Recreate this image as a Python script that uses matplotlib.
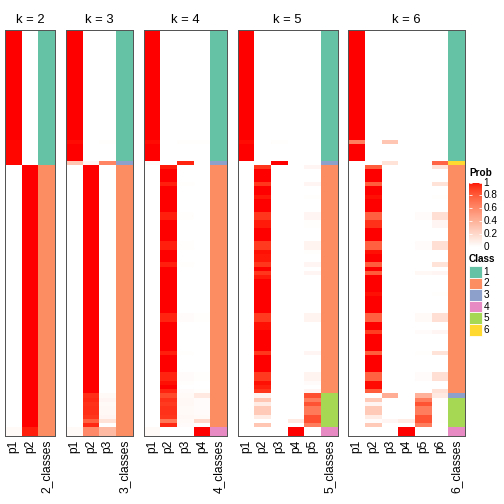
import numpy as np
import matplotlib
matplotlib.use("Agg")
import matplotlib.pyplot as plt
from matplotlib.colors import ListedColormap
from matplotlib.patches import Rectangle

plt.rcParams['font.family'] = ['Liberation Sans', 'DejaVu Sans']

# ---------------- data (run-length rows: (count, [p1..pk], class)) ----------------
K_VALUES = [2, 3, 4, 5, 6]

ROWS_K2 = [
    (26, [1.00, 0.00], 1),
    (6,  [0.995, 0.00], 1),
    (62, [0.00, 1.00], 2),
    (2,  [0.03, 0.97], 2),
]

ROWS_K3 = [
    (26, [1.00, 0.00, 0.00], 1),
    (1,  [0.99, 0.00, 0.01], 1),
    (4,  [1.00, 0.00, 0.00], 1),
    (1,  [0.30, 0.05, 0.62], 3),
    (54, [0.00, 1.00, 0.00], 2),
    (1,  [0.00, 0.94, 0.03], 2),
    (1,  [0.00, 0.95, 0.05], 2),
    (1,  [0.00, 0.93, 0.03], 2),
    (2,  [0.00, 0.94, 0.04], 2),
    (1,  [0.00, 0.92, 0.05], 2),
    (1,  [0.00, 0.78, 0.15], 2),
    (1,  [0.00, 0.95, 0.00], 2),
    (2,  [0.03, 0.60, 0.36], 2),
]

ROWS_K4 = [
    (26, [1.00, 0.00, 0.00, 0.00], 1),
    (1,  [0.99, 0.00, 0.01, 0.01], 1),
    (4,  [1.00, 0.00, 0.00, 0.00], 1),
    (1,  [0.02, 0.00, 0.96, 0.00], 3),
    (1,  [0.00, 0.975, 0.00, 0.00], 2),
    (3,  [0.00, 1.00, 0.00, 0.00], 2),
    (1,  [0.00, 0.965, 0.01, 0.00], 2),
    (6,  [0.00, 1.00, 0.00, 0.00], 2),
    (2,  [0.00, 0.965, 0.01, 0.00], 2),
    (5,  [0.00, 1.00, 0.00, 0.00], 2),
    (2,  [0.00, 0.965, 0.01, 0.00], 2),
    (3,  [0.00, 1.00, 0.00, 0.00], 2),
    (1,  [0.00, 0.965, 0.01, 0.00], 2),
    (11, [0.00, 1.00, 0.00, 0.00], 2),
    (2,  [0.00, 0.96, 0.02, 0.01], 2),
    (7,  [0.00, 1.00, 0.00, 0.00], 2),
    (1,  [0.00, 0.97, 0.01, 0.00], 2),
    (4,  [0.00, 1.00, 0.00, 0.00], 2),
    (2,  [0.00, 0.96, 0.02, 0.01], 2),
    (1,  [0.00, 0.985, 0.01, 0.00], 2),
    (1,  [0.00, 1.00, 0.00, 0.00], 2),
    (1,  [0.00, 0.96, 0.02, 0.01], 2),
    (1,  [0.00, 0.86, 0.03, 0.12], 2),
    (1,  [0.00, 0.93, 0.04, 0.02], 2),
    (1,  [0.00, 0.91, 0.04, 0.02], 2),
    (2,  [0.00, 0.93, 0.03, 0.02], 2),
    (1,  [0.00, 0.92, 0.04, 0.03], 2),
    (1,  [0.00, 0.68, 0.03, 0.20], 2),
    (1,  [0.00, 0.95, 0.02, 0.00], 2),
    (2,  [0.03, 0.00, 0.00, 1.00], 4),
]

ROWS_K5 = [
    (26, [1.00, 0.00, 0.00, 0.00, 0.00], 1),
    (1,  [0.99, 0.00, 0.01, 0.00, 0.00], 1),
    (4,  [1.00, 0.00, 0.00, 0.00, 0.00], 1),
    (1,  [0.00, 0.00, 1.00, 0.00, 0.00], 3),
    (1,  [0.00, 0.92, 0.00, 0.00, 0.05], 2),
    (3,  [0.00, 1.00, 0.00, 0.00, 0.00], 2),
    (1,  [0.00, 0.92, 0.00, 0.00, 0.05], 2),
    (2,  [0.00, 1.00, 0.00, 0.00, 0.00], 2),
    (1,  [0.00, 0.98, 0.00, 0.00, 0.01], 2),
    (3,  [0.00, 1.00, 0.00, 0.00, 0.00], 2),
    (2,  [0.00, 0.92, 0.00, 0.00, 0.05], 2),
    (2,  [0.00, 0.975, 0.00, 0.00, 0.01], 2),
    (3,  [0.00, 1.00, 0.00, 0.00, 0.00], 2),
    (2,  [0.00, 0.91, 0.00, 0.00, 0.06], 2),
    (1,  [0.00, 0.985, 0.00, 0.00, 0.01], 2),
    (2,  [0.00, 0.98, 0.00, 0.00, 0.00], 2),
    (1,  [0.00, 0.92, 0.00, 0.00, 0.05], 2),
    (1,  [0.00, 1.00, 0.00, 0.00, 0.00], 2),
    (1,  [0.00, 0.92, 0.00, 0.00, 0.05], 2),
    (1,  [0.00, 0.975, 0.00, 0.00, 0.00], 2),
    (8,  [0.00, 1.00, 0.00, 0.00, 0.00], 2),
    (2,  [0.00, 0.91, 0.00, 0.00, 0.06], 2),
    (2,  [0.00, 0.985, 0.00, 0.00, 0.00], 2),
    (5,  [0.00, 1.00, 0.00, 0.00, 0.00], 2),
    (1,  [0.00, 0.92, 0.00, 0.00, 0.05], 2),
    (4,  [0.00, 1.00, 0.00, 0.00, 0.00], 2),
    (2,  [0.00, 0.91, 0.00, 0.00, 0.06], 2),
    (1,  [0.00, 0.985, 0.00, 0.00, 0.02], 2),
    (1,  [0.00, 0.965, 0.00, 0.00, 0.00], 2),
    (1,  [0.00, 0.92, 0.00, 0.00, 0.05], 2),
    (1,  [0.00, 0.06, 0.00, 0.00, 0.84], 5),
    (1,  [0.00, 0.30, 0.00, 0.00, 0.66], 5),
    (1,  [0.00, 0.10, 0.00, 0.00, 0.83], 5),
    (2,  [0.00, 0.28, 0.00, 0.00, 0.67], 5),
    (1,  [0.00, 0.10, 0.00, 0.00, 0.84], 5),
    (1,  [0.00, 0.00, 0.00, 0.12, 0.84], 5),
    (1,  [0.00, 0.30, 0.00, 0.00, 0.66], 5),
    (2,  [0.00, 0.00, 0.00, 1.00, 0.00], 4),
]

ROWS_K6 = [
    (26, [1.00, 0.00, 0.00, 0.00, 0.00, 0.00], 1),
    (1,  [0.65, 0.00, 0.30, 0.00, 0.00, 0.00], 1),
    (4,  [1.00, 0.00, 0.00, 0.00, 0.00, 0.00], 1),
    (1,  [0.00, 0.00, 0.15, 0.00, 0.00, 0.76], 6),
    (1,  [0.00, 0.79, 0.00, 0.00, 0.00, 0.15], 2),
    (3,  [0.00, 1.00, 0.00, 0.00, 0.00, 0.00], 2),
    (1,  [0.00, 0.79, 0.00, 0.00, 0.00, 0.15], 2),
    (2,  [0.00, 1.00, 0.00, 0.00, 0.00, 0.00], 2),
    (1,  [0.00, 0.985, 0.00, 0.00, 0.00, 0.01], 2),
    (3,  [0.00, 1.00, 0.00, 0.00, 0.00, 0.00], 2),
    (2,  [0.00, 0.78, 0.00, 0.00, 0.02, 0.17], 2),
    (2,  [0.00, 0.93, 0.00, 0.00, 0.00, 0.05], 2),
    (3,  [0.00, 1.00, 0.00, 0.00, 0.00, 0.00], 2),
    (2,  [0.00, 0.78, 0.00, 0.00, 0.02, 0.17], 2),
    (1,  [0.00, 0.985, 0.00, 0.00, 0.00, 0.00], 2),
    (2,  [0.00, 1.00, 0.00, 0.00, 0.00, 0.00], 2),
    (1,  [0.00, 0.79, 0.00, 0.00, 0.00, 0.15], 2),
    (1,  [0.00, 1.00, 0.00, 0.00, 0.00, 0.00], 2),
    (1,  [0.00, 0.80, 0.00, 0.00, 0.04, 0.05], 2),
    (4,  [0.00, 1.00, 0.00, 0.00, 0.00, 0.00], 2),
    (1,  [0.00, 0.985, 0.00, 0.00, 0.00, 0.01], 2),
    (4,  [0.00, 1.00, 0.00, 0.00, 0.00, 0.00], 2),
    (2,  [0.00, 0.78, 0.00, 0.00, 0.03, 0.17], 2),
    (2,  [0.00, 1.00, 0.00, 0.00, 0.00, 0.00], 2),
    (1,  [0.00, 0.90, 0.00, 0.00, 0.02, 0.05], 2),
    (4,  [0.00, 1.00, 0.00, 0.00, 0.00, 0.00], 2),
    (1,  [0.00, 0.79, 0.00, 0.00, 0.01, 0.15], 2),
    (4,  [0.00, 1.00, 0.00, 0.00, 0.00, 0.00], 2),
    (2,  [0.00, 0.77, 0.00, 0.00, 0.02, 0.17], 2),
    (2,  [0.00, 0.99, 0.00, 0.00, 0.00, 0.00], 2),
    (1,  [0.00, 0.79, 0.00, 0.00, 0.00, 0.16], 2),
    (1,  [0.00, 0.00, 0.42, 0.00, 0.40, 0.12], 3),
    (1,  [0.00, 0.28, 0.00, 0.00, 0.66, 0.01], 5),
    (1,  [0.00, 0.05, 0.00, 0.00, 0.83, 0.01], 5),
    (2,  [0.00, 0.28, 0.00, 0.00, 0.66, 0.01], 5),
    (1,  [0.00, 0.10, 0.00, 0.00, 0.83, 0.01], 5),
    (1,  [0.00, 0.02, 0.05, 0.10, 0.83, 0.01], 5),
    (1,  [0.00, 0.28, 0.00, 0.00, 0.66, 0.00], 5),
    (2,  [0.00, 0.00, 0.00, 1.00, 0.00, 0.00], 4),
]

ALL_ROWS = {2: ROWS_K2, 3: ROWS_K3, 4: ROWS_K4, 5: ROWS_K5, 6: ROWS_K6}

CLASS_LABELS = ["1", "2", "3", "4", "5", "6"]
CLASS_COLORS = ["#66C2A5", "#FC8D62", "#8DA0CB", "#E78AC3", "#A6D854", "#FFD92F"]
PROB_TICKS = [0, 0.2, 0.4, 0.6, 0.8, 1]


def expand(rows):
    probs, cls = [], []
    for n, p, c in rows:
        for _ in range(n):
            probs.append(p)
            cls.append(c)
    return np.array(probs, dtype=float), np.array(cls)


# ---------------- white -> red colour ramp interpolated in LAB ----------------
def srgb_to_lab(rgb):
    rgb = np.asarray(rgb, float)
    lin = np.where(rgb <= 0.04045, rgb / 12.92, ((rgb + 0.055) / 1.055) ** 2.4)
    M = np.array([[0.4124, 0.3576, 0.1805], [0.2126, 0.7152, 0.0722], [0.0193, 0.1192, 0.9505]])
    xyz = M @ lin
    wp = np.array([0.95047, 1.0, 1.08883])
    t = xyz / wp
    f = np.where(t > (6 / 29) ** 3, np.cbrt(t), t / (3 * (6 / 29) ** 2) + 4 / 29)
    return np.array([116 * f[1] - 16, 500 * (f[0] - f[1]), 200 * (f[1] - f[2])])


def lab_to_srgb(lab):
    L, a, b = lab
    fy = (L + 16) / 116
    fx = fy + a / 500
    fz = fy - b / 200
    f = np.array([fx, fy, fz])
    t = np.where(f > 6 / 29, f ** 3, 3 * (6 / 29) ** 2 * (f - 4 / 29))
    xyz = t * np.array([0.95047, 1.0, 1.08883])
    Minv = np.array([[3.2406, -1.5372, -0.4986], [-0.9689, 1.8758, 0.0415], [0.0557, -0.2040, 1.0570]])
    lin = Minv @ xyz
    lin = np.clip(lin, 0, 1)
    rgb = np.where(lin <= 0.0031308, 12.92 * lin, 1.055 * lin ** (1 / 2.4) - 0.055)
    return np.clip(rgb, 0, 1)


lab_w = srgb_to_lab([1, 1, 1])
lab_r = srgb_to_lab([1, 0, 0])
ramp = [lab_to_srgb(lab_w + (lab_r - lab_w) * t) for t in np.linspace(0, 1, 256)]
prob_cmap = ListedColormap(ramp)
class_cmap = ListedColormap(CLASS_COLORS)

# ---------------- layout ----------------
W = H = 504
fig = plt.figure(figsize=(7, 7), dpi=72)


def add_ax(x0, y0, x1, y1):
    return fig.add_axes([x0 / W, 1 - y1 / H, (x1 - x0) / W, (y1 - y0) / H])


col_w = 16.67
lefts = {2: 5.0, 3: 66.0, 4: 143.5, 5: 237.7, 6: 348.3}
top, bottom = 29.7, 435.7

for k in K_VALUES:
    probs, cls = expand(ALL_ROWS[k])
    n = probs.shape[0]
    x0 = lefts[k]
    ax = add_ax(x0, top, x0 + (k + 1) * col_w, bottom)
    ax.pcolormesh(np.arange(k + 1), np.arange(n + 1), probs, cmap=prob_cmap,
                  vmin=0, vmax=1, shading='flat')
    ax.pcolormesh([k, k + 1], np.arange(n + 1), cls.reshape(-1, 1), cmap=class_cmap,
                  vmin=0.5, vmax=6.5, shading='flat')
    ax.set_xlim(0, k + 1)
    ax.set_ylim(n, 0)
    ax.set_yticks([])
    ax.set_xticks(np.arange(k + 1) + 0.5)
    ax.set_xticklabels([f"p{i + 1}" for i in range(k)] + [f"{k}_classes"],
                       rotation=90, fontsize=12)
    ax.tick_params(axis='x', length=0, pad=4)
    for s in ax.spines.values():
        s.set_color('#555555')
        s.set_linewidth(1.0)
    ax.set_title(f"k = {k}", fontsize=13, pad=7)

# ---------------- legends ----------------
fig.text(469 / W, 1 - 176.5 / H, "Prob", fontsize=10, fontweight='bold', va='baseline', ha='left')
cb_x0, cb_x1, cb_y0, cb_y1 = 469.3, 481.7, 182.5, 247.0
cax = add_ax(cb_x0, cb_y0, cb_x1, cb_y1)
grad = np.linspace(1, 0, 200).reshape(-1, 1)
cax.imshow(grad, cmap=prob_cmap, vmin=0, vmax=1, aspect='auto', extent=[0, 1, 0, 1])
cax.set_xlim(0, 1)
cax.set_ylim(0, 1)
cax.axis('off')
for t in PROB_TICKS:
    cax.plot([0, 0.25], [t, t], color='white', lw=0.8, solid_capstyle='butt')
    cax.plot([0.75, 1], [t, t], color='white', lw=0.8, solid_capstyle='butt')
    lab = "0" if t == 0 else ("1" if t == 1 else f"{t:.1f}")
    ypx = cb_y1 - t * (cb_y1 - cb_y0)
    fig.text(483.5 / W, 1 - ypx / H, lab, fontsize=10, va='center', ha='left')

fig.text(469 / W, 1 - 261.5 / H, "Class", fontsize=10, fontweight='bold', va='baseline', ha='left')
box_h = 11.6
for i, (lab, col) in enumerate(zip(CLASS_LABELS, CLASS_COLORS)):
    y0 = 266.0 + i * box_h
    fig.patches.append(Rectangle((469.3 / W, 1 - (y0 + box_h) / H), (481.7 - 469.3) / W, box_h / H,
                                 transform=fig.transFigure, facecolor=col, edgecolor='white',
                                 linewidth=0.8))
    fig.text(483.5 / W, 1 - (y0 + box_h / 2) / H, lab, fontsize=10, va='center', ha='left')

fig.savefig("out.png", dpi=72)
